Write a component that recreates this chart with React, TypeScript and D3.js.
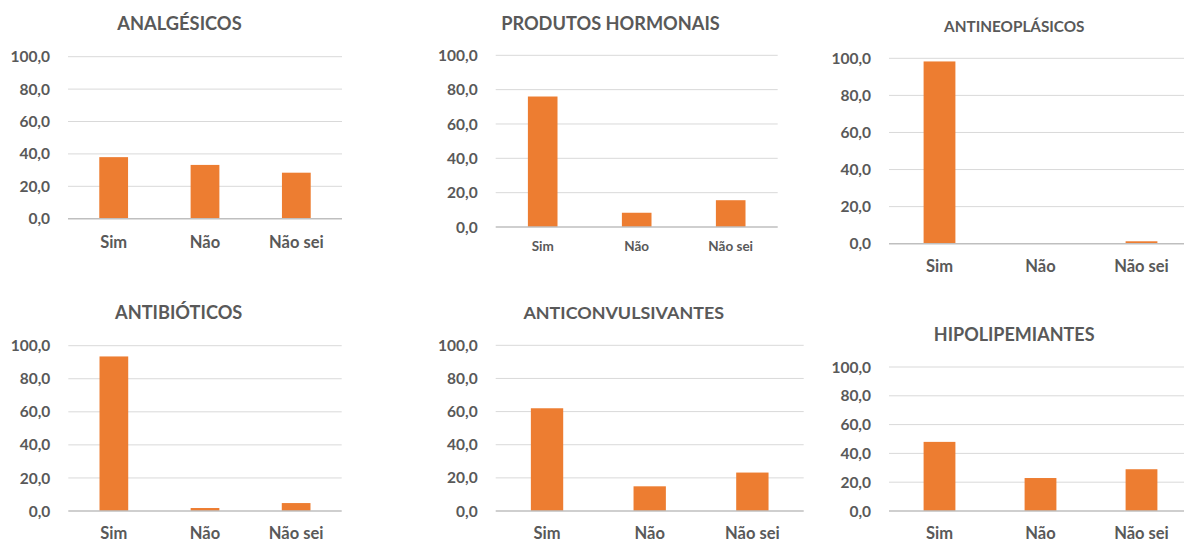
import { useEffect, useRef } from "react";
import * as d3 from "d3";

const categories = ["Sim", "Não", "Não sei"];
const yTicks = [0, 20, 40, 60, 80, 100];

const titles = [
  "ANALGÉSICOS",
  "PRODUTOS HORMONAIS",
  "ANTINEOPLÁSICOS",
  "ANTIBIÓTICOS",
  "ANTICONVULSIVANTES",
  "HIPOLIPEMIANTES",
];

const analgesicos = [38.0, 33.2, 28.4];
const hormonais = [76.0, 8.3, 15.6];
const antineoplasicos = [98.3, 0, 1.3];
const antibioticos = [93.5, 1.8, 4.8];
const anticonvulsivantes = [62.0, 14.9, 23.2];
const hipolipemiantes = [48.0, 22.9, 29.0];

const seriesList = [
  analgesicos,
  hormonais,
  antineoplasicos,
  antibioticos,
  anticonvulsivantes,
  hipolipemiantes,
];

// layout of each small chart in page pixels
const panels = [
  { x0: 68, x1: 342, y0: 218.7, y100: 56.7, titleX: 179.5, titleY: 29.5, titleSize: 18.3, catY: 248.3, catSize: 16.5 },
  { x0: 495.7, x1: 777.7, y0: 227, y100: 55.3, titleX: 610.5, titleY: 29.5, titleSize: 18.2, catY: 250.7, catSize: 13.5 },
  { x0: 889, x1: 1192, y0: 243.7, y100: 58.3, titleX: 1014.3, titleY: 32.3, titleSize: 15.3, catY: 271.7, catSize: 16.5 },
  { x0: 68.3, x1: 341.7, y0: 511, y100: 345.7, titleX: 178.7, titleY: 319, titleSize: 18.2, catY: 539.3, catSize: 16.5 },
  { x0: 495.7, x1: 803.7, y0: 511, y100: 345.3, titleX: 623.7, titleY: 319, titleSize: 17.9, catY: 539.3, catSize: 16.5 },
  { x0: 889, x1: 1192, y0: 511, y100: 367, titleX: 1014.2, titleY: 341, titleSize: 18, catY: 539.3, catSize: 16.5 },
];

const TEXT = "#595959";
const GRID = "#d9d9d9";
const AXIS = "#bfbfbf";
const BAR = "#ED7D31";
const FONT = "Lato, 'Open Sans', sans-serif";

export default function App() {
  const svgRef = useRef<SVGSVGElement>(null);

  useEffect(() => {
    if (!svgRef.current) return;
    const svg = d3.select(svgRef.current);
    svg.selectAll("*").remove();

    panels.forEach((p, i) => {
      const values = seriesList[i];
      const g = svg.append("g");

      const x = d3
        .scaleBand<string>()
        .domain(categories)
        .range([p.x0, p.x1])
        .paddingInner(0.685)
        .paddingOuter(0.3425);

      const y = d3.scaleLinear().domain([0, 100]).range([p.y0, p.y100]);

      // gridlines
      g.selectAll(".grid")
        .data(yTicks.filter((t) => t > 0))
        .enter()
        .append("line")
        .attr("x1", p.x0)
        .attr("x2", p.x1)
        .attr("y1", (d) => y(d))
        .attr("y2", (d) => y(d))
        .attr("stroke", GRID)
        .attr("stroke-width", 1);

      // y tick labels
      g.selectAll(".ytick")
        .data(yTicks)
        .enter()
        .append("text")
        .attr("x", p.x0 - 18)
        .attr("y", (d) => y(d))
        .attr("dy", "0.36em")
        .attr("text-anchor", "end")
        .attr("font-family", FONT)
        .attr("font-weight", "bold")
        .attr("font-size", 15.5)
        .attr("fill", TEXT)
        .text((d) => d3.format(".1f")(d).replace(".", ","));

      // bars
      g.selectAll(".bar")
        .data(values)
        .enter()
        .append("rect")
        .attr("x", (_, j) => x(categories[j]) as number)
        .attr("width", x.bandwidth())
        .attr("y", (d) => y(d))
        .attr("height", (d) => y(0) - y(d))
        .attr("fill", BAR);

      // baseline
      g.append("line")
        .attr("x1", p.x0)
        .attr("x2", p.x1)
        .attr("y1", y(0))
        .attr("y2", y(0))
        .attr("stroke", AXIS)
        .attr("stroke-width", 1.5);

      // category labels
      g.selectAll(".cat")
        .data(categories)
        .enter()
        .append("text")
        .attr("x", (d) => (x(d) as number) + x.bandwidth() / 2)
        .attr("y", p.catY)
        .attr("text-anchor", "middle")
        .attr("font-family", FONT)
        .attr("font-weight", "bold")
        .attr("font-size", p.catSize)
        .attr("fill", TEXT)
        .text((d) => d);

      // title
      g.append("text")
        .attr("x", p.titleX)
        .attr("y", p.titleY)
        .attr("text-anchor", "middle")
        .attr("font-family", FONT)
        .attr("font-weight", "bold")
        .attr("font-size", p.titleSize)
        .attr("fill", TEXT)
        .text(titles[i]);
    });
  }, []);

  return (
    <svg
      ref={svgRef}
      width={1184}
      height={542}
      style={{ position: "absolute", left: 0, top: 0, background: "#fff" }}
    />
  );
}
